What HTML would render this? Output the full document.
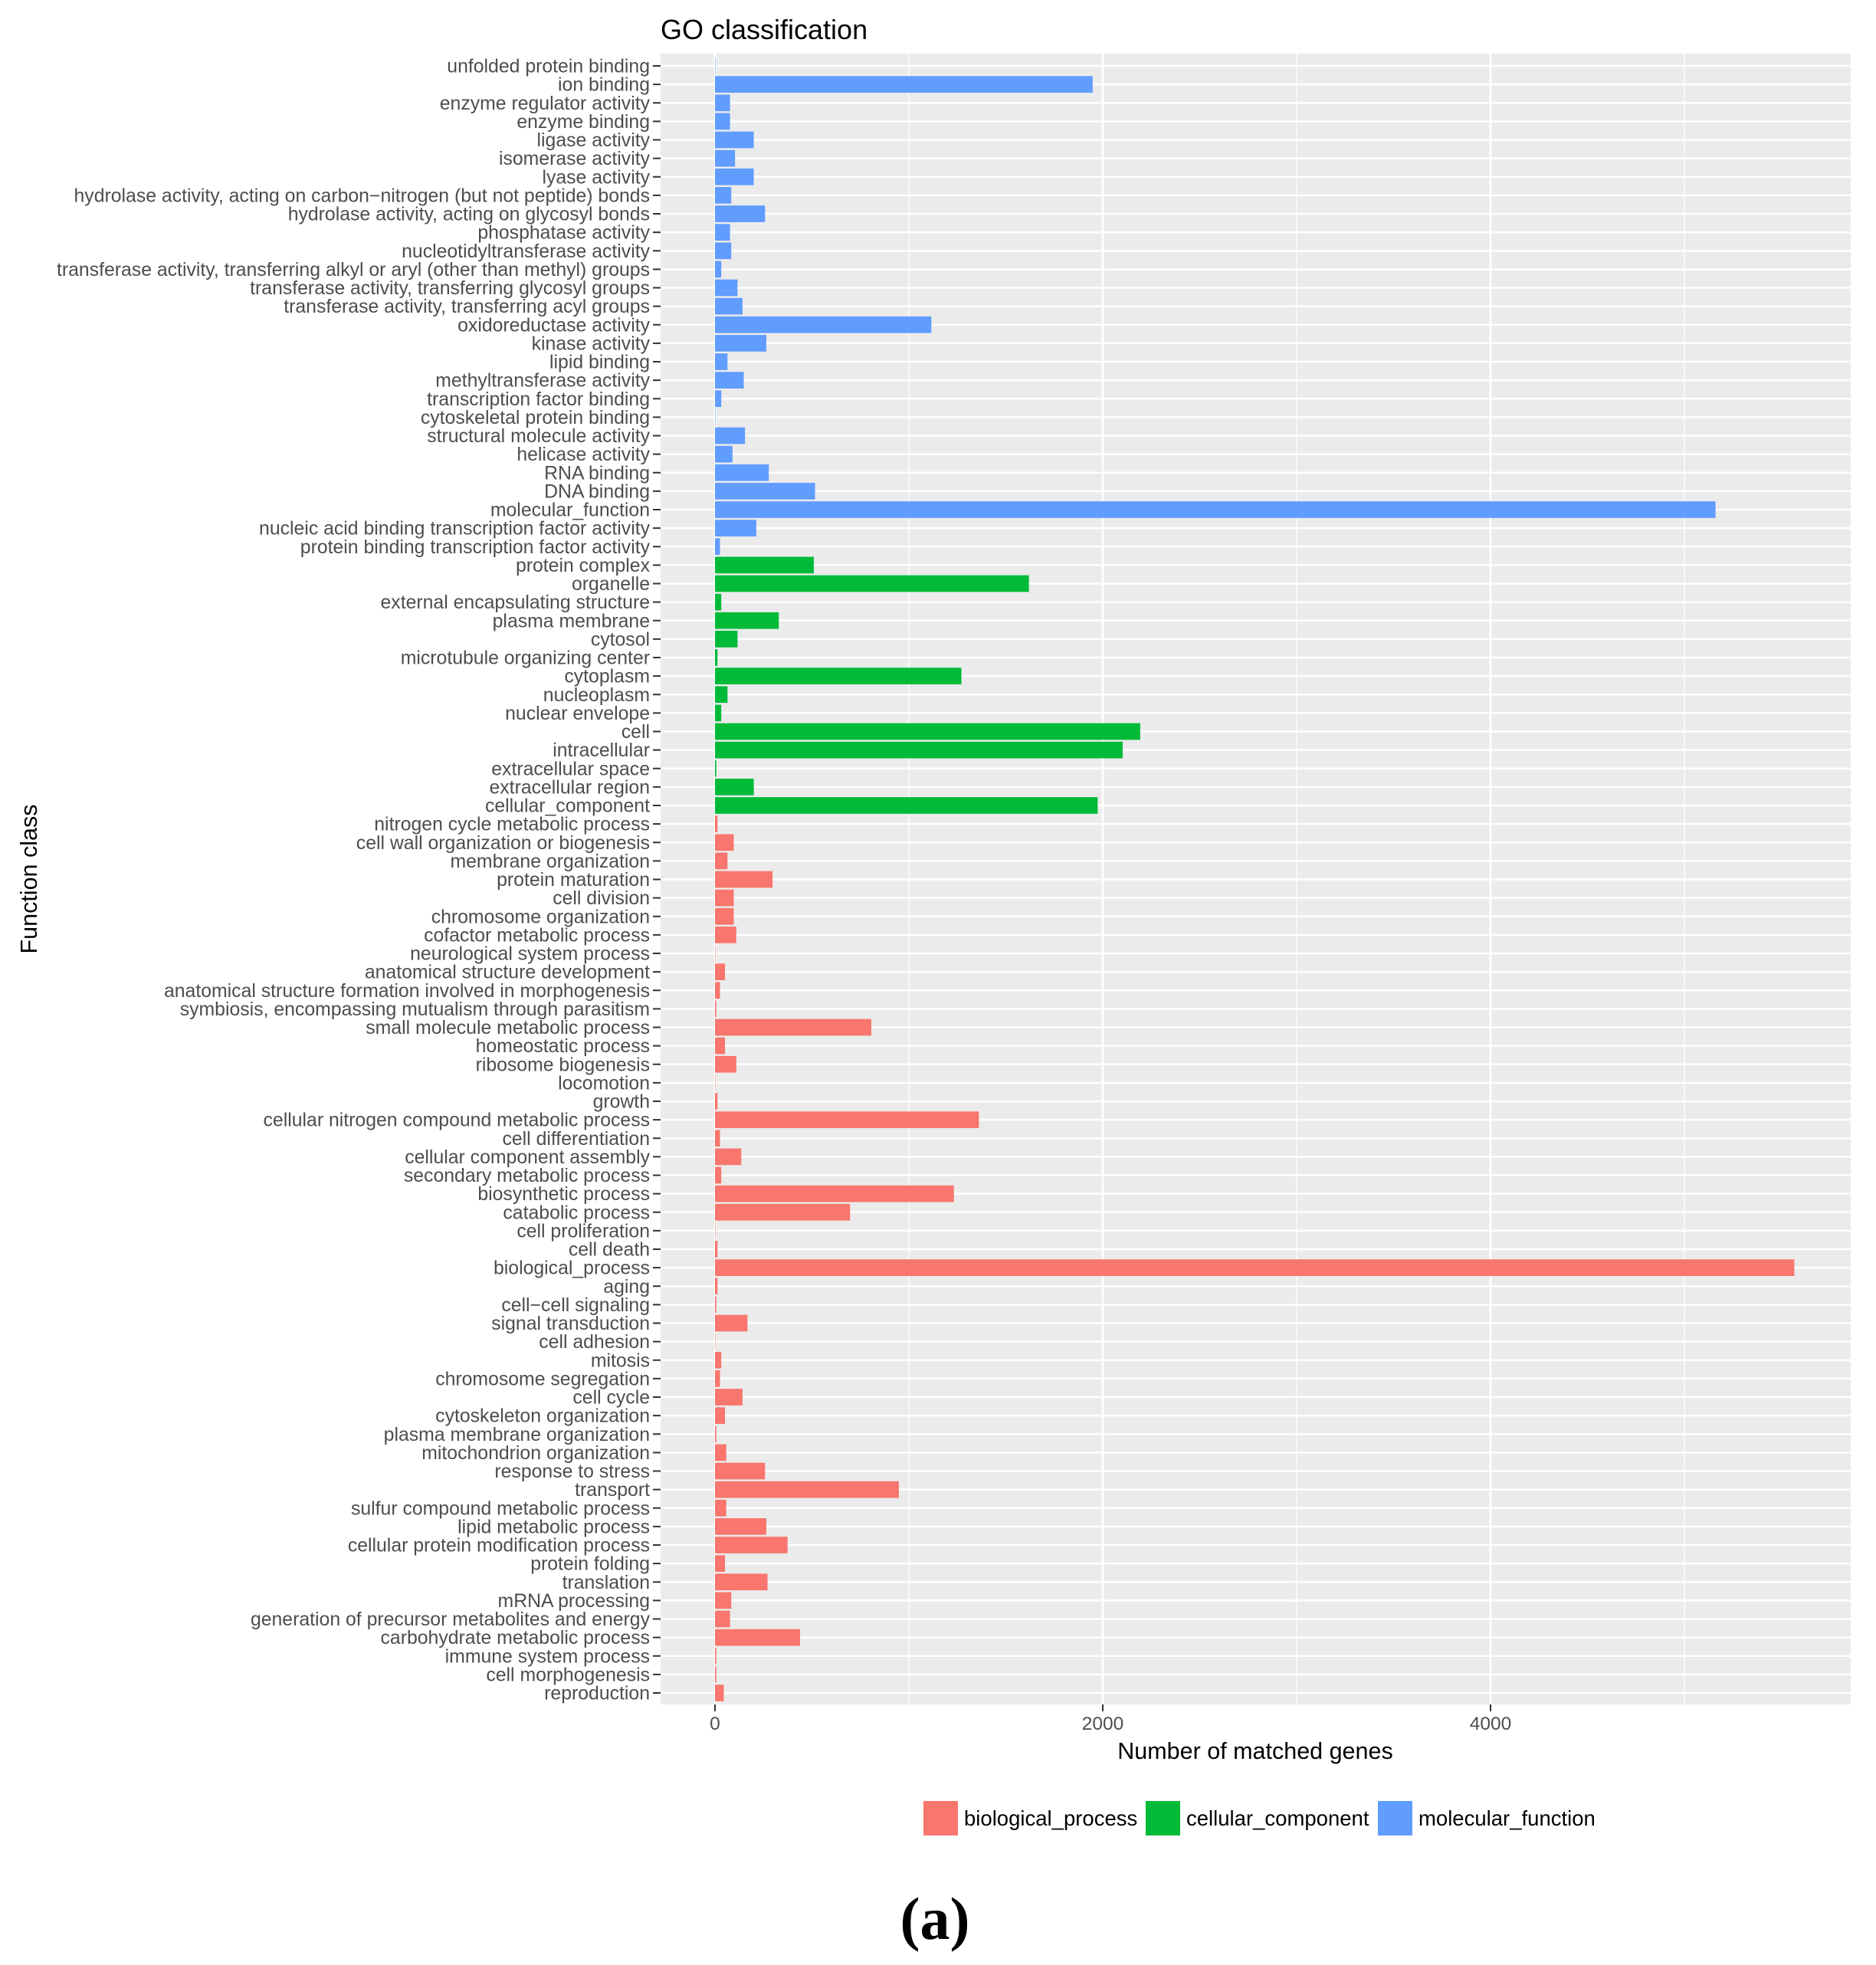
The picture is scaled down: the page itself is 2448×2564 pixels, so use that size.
<!DOCTYPE html>
<html><head><meta charset="utf-8"><style>
html,body{margin:0;padding:0;background:#fff;}
svg{display:block;font-family:"Liberation Sans",Arial,sans-serif;}
</style></head><body>
<svg id="s" width="2448" height="2564" xmlns="http://www.w3.org/2000/svg">
<rect x="0" y="0" width="2448" height="2564" fill="#fff"/>
<text x="862" y="51" font-size="36" fill="#000">GO classification</text>
<rect x="862" y="70" width="1553" height="2154" fill="#EBEBEB"/>
<g id="grid"></g>
<g id="bars"></g>
<g id="labels" font-size="24.8" fill="#4d4d4d" text-anchor="end"></g>
<g font-size="24.5" fill="#4d4d4d" text-anchor="middle">
<text x="933" y="2257">0</text>
<text x="1439" y="2257">2000</text>
<text x="1945" y="2257">4000</text>
</g>
<g stroke="#333" stroke-width="2">
<line x1="933" y1="2224" x2="933" y2="2233"/>
<line x1="1439" y1="2224" x2="1439" y2="2233"/>
<line x1="1945" y1="2224" x2="1945" y2="2233"/>
</g>
<text x="1638" y="2295" font-size="30.5" fill="#000" text-anchor="middle">Number of matched genes</text>
<text transform="translate(48,1147) rotate(-90)" font-size="30.5" fill="#000" text-anchor="middle">Function class</text>
<rect x="1205" y="2350" width="45" height="45" fill="#F8766D"/>
<text x="1258" y="2382" font-size="27.5" fill="#000">biological_process</text>
<rect x="1495" y="2350" width="45" height="45" fill="#00BA38"/>
<text x="1548" y="2382" font-size="27.5" fill="#000">cellular_component</text>
<rect x="1798" y="2350" width="45" height="45" fill="#619CFF"/>
<text x="1851" y="2382" font-size="27.5" fill="#000">molecular_function</text>
<text x="1220" y="2530" font-size="78" font-weight="bold" font-family="Liberation Serif,serif" text-anchor="middle" fill="#000">(a)</text>
</svg>
<script>
var d=[
["unfolded protein binding",0.3,2],["ion binding",302,2],["enzyme regulator activity",12,2],["enzyme binding",12,2],["ligase activity",31,2],["isomerase activity",16,2],["lyase activity",31,2],["hydrolase activity, acting on carbon\u2212nitrogen (but not peptide) bonds",13,2],["hydrolase activity, acting on glycosyl bonds",40,2],["phosphatase activity",12,2],["nucleotidyltransferase activity",13,2],["transferase activity, transferring alkyl or aryl (other than methyl) groups",5,2],["transferase activity, transferring glycosyl groups",18,2],["transferase activity, transferring acyl groups",22,2],["oxidoreductase activity",173,2],["kinase activity",41,2],["lipid binding",10,2],["methyltransferase activity",23,2],["transcription factor binding",5,2],["cytoskeletal protein binding",0.3,2],["structural molecule activity",24,2],["helicase activity",14,2],["RNA binding",43,2],["DNA binding",80,2],["molecular_function",800,2],["nucleic acid binding transcription factor activity",33,2],["protein binding transcription factor activity",4,2],
["protein complex",79,1],["organelle",251,1],["external encapsulating structure",5,1],["plasma membrane",51,1],["cytosol",18,1],["microtubule organizing center",2,1],["cytoplasm",197,1],["nucleoplasm",10,1],["nuclear envelope",5,1],["cell",340,1],["intracellular",326,1],["extracellular space",1,1],["extracellular region",31,1],["cellular_component",306,1],
["nitrogen cycle metabolic process",2,0],["cell wall organization or biogenesis",15,0],["membrane organization",10,0],["protein maturation",46,0],["cell division",15,0],["chromosome organization",15,0],["cofactor metabolic process",17,0],["neurological system process",0.3,0],["anatomical structure development",8,0],["anatomical structure formation involved in morphogenesis",4,0],["symbiosis, encompassing mutualism through parasitism",1,0],["small molecule metabolic process",125,0],["homeostatic process",8,0],["ribosome biogenesis",17,0],["locomotion",0.2,0],["growth",2,0],["cellular nitrogen compound metabolic process",211,0],["cell differentiation",4,0],["cellular component assembly",21,0],["secondary metabolic process",5,0],["biosynthetic process",191,0],["catabolic process",108,0],["cell proliferation",0.2,0],["cell death",2,0],["biological_process",863,0],["aging",2,0],["cell\u2212cell signaling",1,0],["signal transduction",26,0],["cell adhesion",0.2,0],["mitosis",5,0],["chromosome segregation",4,0],["cell cycle",22,0],["cytoskeleton organization",8,0],["plasma membrane organization",1,0],["mitochondrion organization",9,0],["response to stress",40,0],["transport",147,0],["sulfur compound metabolic process",9,0],["lipid metabolic process",41,0],["cellular protein modification process",58,0],["protein folding",8,0],["translation",42,0],["mRNA processing",13,0],["generation of precursor metabolites and energy",12,0],["carbohydrate metabolic process",68,0],["immune system process",1,0],["cell morphogenesis",1,0],["reproduction",7,0]];
var cols=["#F8766D","#00BA38","#619CFF"];
var NS="http://www.w3.org/2000/svg";
function el(p,t,a,txt){var e=document.createElementNS(NS,t);for(var k in a)e.setAttribute(k,a[k]);if(txt!=null)e.textContent=txt;p.appendChild(e);return e;}
var g=document.getElementById("grid"),b=document.getElementById("bars"),l=document.getElementById("labels");
[1186,1692,2198].forEach(function(x){el(g,"line",{x1:x,y1:70,x2:x,y2:2224,stroke:"#fff","stroke-width":1.3});});
[933,1439,1945].forEach(function(x){el(g,"line",{x1:x,y1:70,x2:x,y2:2224,stroke:"#fff","stroke-width":2.6});});
var step=(2209-86)/88;
d.forEach(function(r,i){var y=86+i*step;
el(g,"line",{x1:862,y1:y,x2:2415,y2:y,stroke:"#fff","stroke-width":2.6});
el(b,"rect",{x:933,y:y-10.85,width:Math.max(r[1]*1.632,0.5),height:21.7,fill:cols[r[2]]});
el(l,"text",{x:848,y:y+8.5},r[0]);
el(l,"line",{x1:852,y1:y,x2:862,y2:y,stroke:"#333","stroke-width":2});
});
</script>
</body></html>
